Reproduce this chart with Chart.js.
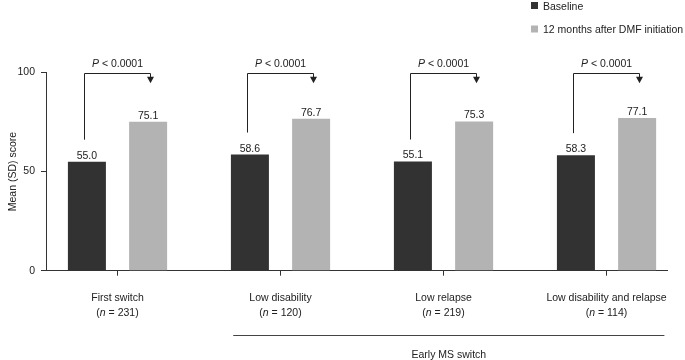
<!DOCTYPE html>
<html>
<head>
<meta charset="utf-8">
<script src="https://cdn.jsdelivr.net/npm/chart.js@4/dist/chart.umd.min.js"></script>
<style>
  html, body { margin: 0; padding: 0; background: #fff; }
  canvas { display: block; }
</style>
</head>
<body>
<canvas id="chart" width="685" height="360"></canvas>
<script>
// values
const categories = ['First switch', 'Low disability', 'Low relapse', 'Low disability and relapse'];
const nValues = [231, 120, 219, 114];
const baseline = [55.0, 58.6, 55.1, 58.3];
const month12 = [75.1, 76.7, 75.3, 77.1];
const pValues = ['< 0.0001', '< 0.0001', '< 0.0001', '< 0.0001'];
const yTicks = [0, 50, 100];
const seriesNames = ['Baseline', '12 months after DMF initiation'];
const groupLabel = 'Early MS switch';

const FONT = "'Liberation Sans', Arial, sans-serif";
const TXT = '#222';
const DARK = '#323232';
const LIGHT = '#b3b3b3';

Chart.defaults.font.family = FONT;
Chart.defaults.font.size = 10.5;
Chart.defaults.color = TXT;

// draw text with the n / P in italics
function mixedText(ctx, parts, cx, y) {
  let w = 0;
  parts.forEach(p => { ctx.font = (p.it ? 'italic ' : '') + '10.5px ' + FONT; w += ctx.measureText(p.t).width; });
  let x = cx - w / 2;
  ctx.textAlign = 'left';
  parts.forEach(p => {
    ctx.font = (p.it ? 'italic ' : '') + '10.5px ' + FONT;
    ctx.fillText(p.t, x, y);
    x += ctx.measureText(p.t).width;
  });
}

const extras = {
  id: 'extras',
  afterDraw(chart) {
    const ctx = chart.ctx;
    const x = chart.scales.x, y = chart.scales.y;
    const m0 = chart.getDatasetMeta(0).data, m1 = chart.getDatasetMeta(1).data;
    ctx.save();
    ctx.fillStyle = TXT;
    ctx.strokeStyle = TXT;
    ctx.lineWidth = 1;
    ctx.textBaseline = 'alphabetic';

    // value labels
    ctx.font = '10.5px ' + FONT;
    ctx.textAlign = 'center';
    [m0, m1].forEach((meta, d) => {
      const vals = d === 0 ? baseline : month12;
      meta.forEach((bar, i) => ctx.fillText(vals[i].toFixed(1), bar.x, bar.y - 3));
    });

    // significance brackets
    const top = Math.round(y.getPixelForValue(100)) + 0.5;
    const tip = y.getPixelForValue(94.6);
    categories.forEach((c, i) => {
      const lx = Math.round(m0[i].x - 3) + 0.5;
      const rx = Math.round(m1[i].x + 2) + 0.5;
      const lb = m0[i].y - 22;
      ctx.beginPath();
      ctx.moveTo(lx, lb);
      ctx.lineTo(lx, top);
      ctx.lineTo(rx, top);
      ctx.lineTo(rx, tip - 5);
      ctx.stroke();
      ctx.beginPath();
      ctx.moveTo(rx - 3.5, tip - 6.5);
      ctx.lineTo(rx + 3.5, tip - 6.5);
      ctx.lineTo(rx, tip);
      ctx.closePath();
      ctx.fill();
      mixedText(ctx, [{t: 'P', it: true}, {t: ' ' + pValues[i]}], x.getPixelForValue(i), top - 7);
    });

    // category labels
    categories.forEach((c, i) => {
      const cx = x.getPixelForValue(i);
      ctx.font = '10.5px ' + FONT;
      ctx.textAlign = 'center';
      ctx.fillText(c, cx, 300.5);
      mixedText(ctx, [{t: '('}, {t: 'n', it: true}, {t: ' = ' + nValues[i] + ')'}], cx, 315.5);
    });

    // group line
    const gl = x.getPixelForValue(0.71), gr = x.getPixelForValue(3.355);
    ctx.strokeStyle = '#444';
    ctx.beginPath();
    ctx.moveTo(gl, 335.5);
    ctx.lineTo(gr, 335.5);
    ctx.stroke();
    ctx.font = '10.5px ' + FONT;
    ctx.textAlign = 'center';
    ctx.fillText(groupLabel, (gl + gr) / 2, 357.5);

    // legend
    const lc = [DARK, LIGHT];
    seriesNames.forEach((s, i) => {
      const ly = 2 + i * 23.5;
      ctx.fillStyle = lc[i];
      ctx.fillRect(531, ly, 7, 7);
      ctx.fillStyle = TXT;
      ctx.textAlign = 'left';
      ctx.fillText(s, 543, ly + 7.5);
    });
    ctx.restore();
  }
};

new Chart(document.getElementById('chart'), {
  type: 'bar',
  data: {
    datasets: [
      { label: seriesNames[0], data: baseline.map((v, i) => ({x: i, y: v})), backgroundColor: DARK },
      { label: seriesNames[1], data: month12.map((v, i) => ({x: i, y: v})), backgroundColor: LIGHT }
    ]
  },
  options: {
    responsive: false,
    animation: false,
    devicePixelRatio: 1,
    categoryPercentage: 0.751,
    barPercentage: 0.621,
    layout: { padding: { top: 72.5, right: 18, bottom: 0, left: 0 } },
    plugins: { legend: { display: false }, tooltip: { enabled: false } },
    scales: {
      x: {
        type: 'linear',
        min: -0.4387,
        max: 3.371,
        offset: false,
        afterBuildTicks: s => { s.ticks = [0, 1, 2, 3].map(v => ({value: v})); },
        afterFit: s => { s.height = 89.3; },
        ticks: { display: false },
        grid: { offset: false, drawOnChartArea: false, tickLength: 5, color: '#333' },
        border: { color: '#333', width: 1 }
      },
      y: {
        min: 0,
        max: 100,
        afterBuildTicks: s => { s.ticks = yTicks.map(v => ({value: v})); },
        afterFit: s => { s.width = 46; },
        ticks: { padding: 6, color: TXT, font: { size: 10.5 } },
        grid: { drawOnChartArea: false, tickLength: 5, color: '#333' },
        border: { color: '#333', width: 1 },
        title: { display: true, text: 'Mean (SD) score', color: TXT, font: { size: 10.5 }, padding: { top: 7, bottom: 0 } }
      }
    }
  },
  plugins: [extras]
});
</script>
</body>
</html>
